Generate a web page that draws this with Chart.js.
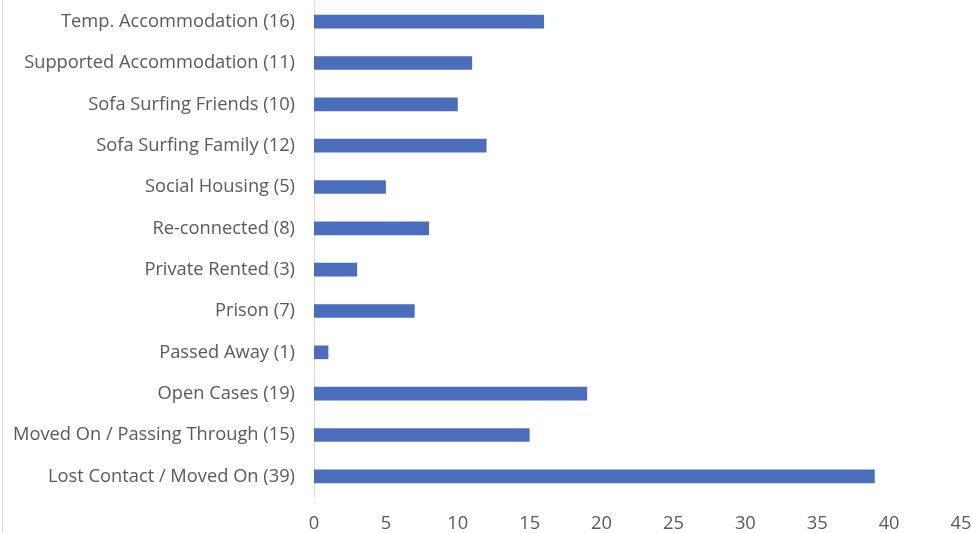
<!DOCTYPE html>
<html>
<head>
<meta charset="utf-8">
<script src="https://cdn.jsdelivr.net/npm/chart.js@4/dist/chart.umd.min.js"></script>
<style>
html,body{margin:0;padding:0;background:#fff;}
#wrap{position:absolute;left:0;top:0;width:973px;height:533px;}
#frame{position:absolute;left:2px;top:0;width:1px;height:533px;background:#d9d9d9;}
</style>
</head>
<body>
<div id="wrap"><canvas id="c" width="973" height="533"></canvas></div>
<div id="frame"></div>
<script>
const categories = [
  "Temp. Accommodation (16)",
  "Supported Accommodation (11)",
  "Sofa Surfing Friends (10)",
  "Sofa Surfing Family (12)",
  "Social Housing (5)",
  "Re-connected (8)",
  "Private Rented (3)",
  "Prison (7)",
  "Passed Away (1)",
  "Open Cases (19)",
  "Moved On / Passing Through (15)",
  "Lost Contact / Moved On (39)"
];
const values = [16, 11, 10, 12, 5, 8, 3, 7, 1, 19, 15, 39];
const xTicks = [0, 5, 10, 15, 20, 25, 30, 35, 40, 45];

const font = {family: "'Open Sans', 'Liberation Sans', sans-serif", size: 18.3};
new Chart(document.getElementById('c'), {
  type: 'bar',
  data: {
    labels: categories,
    datasets: [{
      data: values,
      backgroundColor: '#4a6ebc',
      barPercentage: 0.33,
      categoryPercentage: 1.0
    }]
  },
  options: {
    indexAxis: 'y',
    responsive: false,
    animation: false,
    layout: {padding: {top: 1, right: 3, bottom: 0, left: 0}},
    plugins: {legend: {display: false}, tooltip: {enabled: false}},
    scales: {
      x: {
        min: xTicks[0], max: xTicks[xTicks.length - 1],
        afterBuildTicks: s => { s.ticks = xTicks.map(v => ({value: v})); },
        grid: {display: false, drawTicks: false},
        border: {display: false},
        ticks: {color: '#595959', font: font, padding: 16, maxRotation: 0},
        afterFit: s => { s.height = 36; s.paddingLeft = 0; s.paddingRight = 12; }
      },
      y: {
        grid: {display: false, drawTicks: false},
        border: {display: true, color: '#d9d9d9', width: 1},
        ticks: {color: '#595959', font: font, padding: 19},
        afterFit: s => { s.width = 314; s.paddingTop = 0; s.paddingBottom = 0; }
      }
    }
  }
});
</script>
</body>
</html>
